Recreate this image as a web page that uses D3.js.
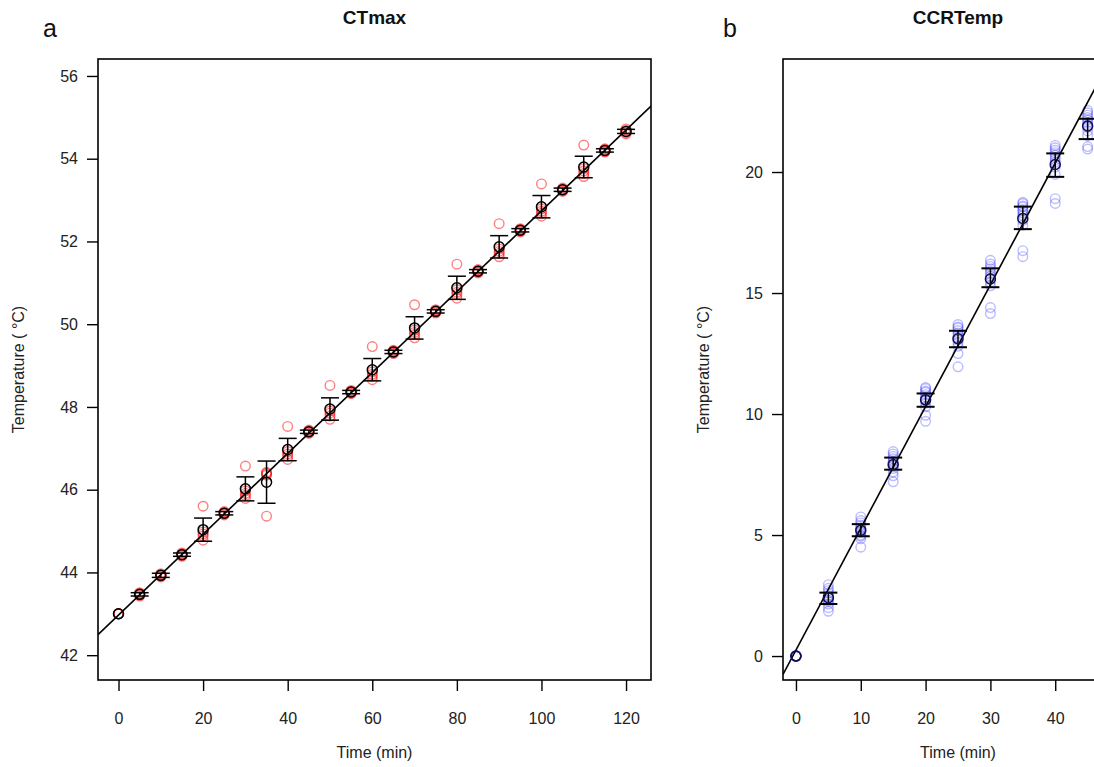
<!DOCTYPE html>
<html>
<head>
<meta charset="utf-8">
<script src="https://cdn.jsdelivr.net/npm/d3@7"></script>
<style>
  html, body { margin: 0; padding: 0; background: #fff; }
  svg { display: block; font-family: "Liberation Sans", Arial, sans-serif; }
</style>
</head>
<body>
<svg id="chart" width="1094" height="767"></svg>
<script>
// ---------------- Panel a: CTmax ----------------
const timesA = [0,5,10,15,20,25,30,35,40,45,50,55,60,65,70,75,80,85,90,95,100,105,110,115,120];
// individual replicate temperatures (°C) per time
const indivA = [
  [43.00,43.00,43.00,43.00,43.00],
  [43.43,43.45,43.47,43.49,43.51],
  [43.89,43.91,43.93,43.95,43.97],
  [44.39,44.41,44.43,44.45,44.47],
  [45.60,44.98,44.93,44.88,44.78],
  [45.39,45.41,45.43,45.45,45.47],
  [46.57,45.97,45.91,45.86,45.79],
  [46.42,46.40,46.38,46.35,45.36],
  [47.53,46.92,46.86,46.81,46.73],
  [47.36,47.38,47.40,47.42,47.44],
  [48.52,47.90,47.85,47.78,47.70],
  [48.32,48.34,48.36,48.38,48.40],
  [49.46,48.85,48.79,48.74,48.66],
  [49.29,49.31,49.33,49.35,49.37],
  [50.47,49.86,49.80,49.75,49.67],
  [50.27,50.29,50.31,50.33,50.35],
  [51.45,50.83,50.77,50.72,50.63],
  [51.24,51.26,51.28,51.30,51.32],
  [52.43,51.82,51.76,51.71,51.63],
  [52.23,52.25,52.27,52.29,52.31],
  [53.39,52.79,52.73,52.68,52.61],
  [53.21,53.23,53.25,53.27,53.29],
  [54.33,53.76,53.70,53.64,53.57],
  [54.16,54.18,54.20,54.22,54.24],
  [54.60,54.63,54.66,54.69,54.72]
];
// half-width of the error bars (°C)
const errA = [0,0.04,0.05,0.04,0.28,0.04,0.29,0.51,0.27,0.04,0.27,0.04,0.27,0.04,0.27,0.04,0.28,0.04,0.27,0.04,0.27,0.04,0.26,0.04,0.05];
const fitA = [42.97, 0.0977]; // intercept, slope
const yTicksA = [42,44,46,48,50,52,54,56];
const xTicksA = [0,20,40,60,80,100,120];

// ---------------- Panel b: CCRTemp ----------------
const timesB = [0,5,10,15,20,25,30,35,40,45];
const indivB = [
  [0,0,0,0,0,0,0,0,0,0,0,0],
  [1.85,2.0,2.15,2.25,2.3,2.4,2.45,2.5,2.6,2.7,2.8,2.95],
  [4.5,4.85,4.95,5.0,5.1,5.15,5.25,5.3,5.4,5.5,5.6,5.75],
  [7.2,7.45,7.6,7.75,7.85,7.9,8.0,8.05,8.15,8.25,8.35,8.45],
  [9.7,9.95,10.3,10.45,10.55,10.6,10.7,10.8,10.9,10.95,11.05,11.1],
  [11.95,12.5,12.8,12.95,13.05,13.15,13.25,13.35,13.45,13.55,13.6,13.7],
  [14.15,14.4,15.3,15.45,15.6,15.7,15.8,15.9,16.0,16.1,16.2,16.35],
  [16.5,16.75,17.8,18.0,18.2,18.3,18.4,18.45,18.55,18.6,18.7,18.75],
  [18.7,18.9,19.9,20.2,20.4,20.5,20.6,20.7,20.8,20.9,21.0,21.1],
  [20.95,21.05,21.5,21.7,21.85,21.95,22.05,22.15,22.25,22.35,22.45,22.55]
];
const errLowB  = [0,2.15,4.95,7.70,10.30,12.76,15.24,17.64,19.80,21.36];
const errHighB = [0,2.62,5.45,8.20,10.85,13.44,16.02,18.57,20.77,22.20];
const fitB = [0.25, 0.503];
const yTicksB = [0,5,10,15,20];
const xTicksB = [0,10,20,30,40];

const svg = d3.select("#chart");
const TOP = 59, BOTTOM = 680;

function panel(opts) {
  const { x, y, xTicks, yTicks, title, letter, letterX, ylabX } = opts;
  const g = svg.append("g");
  const [x0, x1] = x.range();
  const cid = "clip" + letter;
  svg.append("defs").append("clipPath").attr("id", cid)
    .append("rect").attr("x", x0).attr("y", TOP).attr("width", x1 - x0).attr("height", BOTTOM - TOP);

  const pg = g.append("g").attr("clip-path", `url(#${cid})`);
  // individual points
  opts.indiv.forEach((vals, i) => {
    pg.selectAll(null).data(vals).enter().append("circle")
      .attr("cx", x(opts.times[i])).attr("cy", d => y(d)).attr("r", 4.8)
      .attr("fill", "none").attr("stroke", opts.ptColor)
      .attr("stroke-opacity", opts.ptOpacity).attr("stroke-width", 1.4);
  });
  // fit line
  const xd = x.domain();
  pg.append("line")
    .attr("x1", x(xd[0])).attr("y1", y(opts.fit[0] + opts.fit[1] * xd[0]))
    .attr("x2", x(xd[1])).attr("y2", y(opts.fit[0] + opts.fit[1] * xd[1]))
    .attr("stroke", "#000").attr("stroke-width", 1.6);
  // error bars
  opts.times.forEach((t, i) => {
    const lo = opts.lo[i], hi = opts.hi[i];
    if (hi - lo <= 0) return;
    const cx = x(t);
    pg.append("line").attr("x1", cx).attr("x2", cx).attr("y1", y(lo)).attr("y2", y(hi))
      .attr("stroke", opts.barColor).attr("stroke-width", 1.5);
    [lo, hi].forEach(v => pg.append("line").attr("x1", cx - 9).attr("x2", cx + 9)
      .attr("y1", y(v)).attr("y2", y(v)).attr("stroke", opts.barColor).attr("stroke-width", opts.capW));
  });
  // means
  pg.selectAll(null).data(opts.times).enter().append("circle")
    .attr("cx", d => x(d)).attr("cy", (d, i) => y(d3.mean(opts.indiv[i]))).attr("r", 5)
    .attr("fill", "none").attr("stroke", opts.meanColor).attr("stroke-width", 1.5);

  // box
  g.append("rect").attr("x", x0).attr("y", TOP).attr("width", x1 - x0).attr("height", BOTTOM - TOP)
    .attr("fill", "none").attr("stroke", "#000").attr("stroke-width", 1.6);

  // axes
  const ax = g.append("g").attr("transform", `translate(0,${BOTTOM})`)
    .call(d3.axisBottom(x).tickValues(xTicks).tickSize(11).tickPadding(22).tickFormat(d3.format("d")));
  const ay = g.append("g").attr("transform", `translate(${x0},0)`)
    .call(d3.axisLeft(y).tickValues(yTicks).tickSize(11).tickPadding(9).tickFormat(d3.format("d")));
  [ax, ay].forEach(a => {
    a.select(".domain").remove();
    a.selectAll("line").attr("stroke", "#000").attr("stroke-width", 1.4);
    a.selectAll("text").attr("font-size", 16).attr("fill", "#222").attr("font-family", "Liberation Sans, Arial, sans-serif");
  });

  const cx = (x0 + x1) / 2;
  g.append("text").attr("x", cx).attr("y", 24).attr("text-anchor", "middle")
    .attr("font-weight", "bold").attr("font-size", 19).attr("fill", "#111").text(title);
  g.append("text").attr("x", letterX).attr("y", 37).attr("text-anchor", "middle")
    .attr("font-size", 25).attr("fill", "#111").text(letter);
  g.append("text").attr("x", cx).attr("y", 758).attr("text-anchor", "middle")
    .attr("font-size", 16).attr("fill", "#222").text("Time (min)");
  g.append("text").attr("transform", `translate(${ylabX},${(TOP + BOTTOM) / 2}) rotate(-90)`)
    .attr("text-anchor", "middle").attr("font-size", 16).attr("fill", "#222").text("Temperature ( °C)");
}

const xA = d3.scaleLinear().domain([-4.85, 125.9]).range([98, 651]);
const yA = d3.scaleLinear().domain([41.40, 56.41]).range([BOTTOM, TOP]);
panel({
  x: xA, y: yA, xTicks: xTicksA, yTicks: yTicksA, title: "CTmax", letter: "a", letterX: 50, ylabX: 24,
  times: timesA, indiv: indivA, fit: fitA,
  lo: timesA.map((t, i) => d3.mean(indivA[i]) - errA[i]),
  hi: timesA.map((t, i) => d3.mean(indivA[i]) + errA[i]),
  ptColor: "#ff0000", ptOpacity: 0.5, capW: 1.5, barColor: "#000", meanColor: "#000"
});

const xB = d3.scaleLinear().domain([-2, 52]).range([783, 1133]);
const yB = d3.scaleLinear().domain([-0.99, 24.67]).range([BOTTOM, TOP]);
panel({
  x: xB, y: yB, xTicks: xTicksB, yTicks: yTicksB, title: "CCRTemp", letter: "b", letterX: 730, ylabX: 709,
  times: timesB, indiv: indivB, fit: fitB,
  lo: errLowB, hi: errHighB,
  ptColor: "#2020ff", ptOpacity: 0.3, capW: 2, barColor: "#000", meanColor: "#10104a"
});
</script>
</body>
</html>
